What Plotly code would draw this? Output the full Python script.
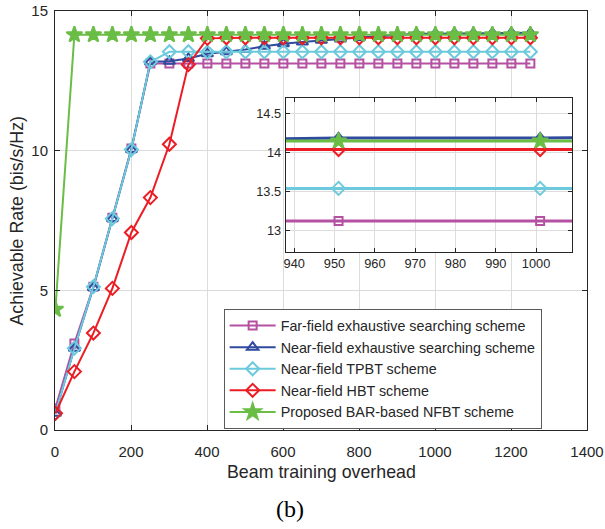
import plotly.graph_objects as go

overhead = [1, 51, 101, 151, 201, 251, 301, 351, 401, 451, 501, 551, 601,
            651, 701, 751, 801, 851, 901, 951, 1001, 1051, 1101, 1151, 1201, 1251]

far_field = [0.78, 3.10, 5.13, 7.60, 10.08, 13.12, 13.12, 13.12, 13.12, 13.12,
             13.12, 13.12, 13.12, 13.12, 13.12, 13.12, 13.12, 13.12, 13.12, 13.12,
             13.12, 13.12, 13.12, 13.12, 13.12, 13.12]
near_exh = [0.60, 2.93, 5.10, 7.57, 10.04, 13.18, 13.20, 13.30, 13.47, 13.54,
            13.62, 13.74, 13.83, 13.89, 13.95, 14.00, 14.05, 14.10, 14.15, 14.19,
            14.19, 14.20, 14.20, 14.21, 14.22, 14.22]
tpbt = [0.60, 2.93, 5.13, 7.57, 10.04, 13.18, 13.54, 13.54, 13.53, 13.54,
        13.54, 13.54, 13.54, 13.54, 13.54, 13.54, 13.54, 13.54, 13.54, 13.54,
        13.54, 13.54, 13.54, 13.54, 13.54, 13.54]
hbt = [0.60, 2.09, 3.47, 5.07, 7.07, 8.32, 10.23, 13.08, 14.02, 14.04,
       14.04, 14.04, 14.04, 14.04, 14.04, 14.04, 14.04, 14.04, 14.04, 14.04,
       14.04, 14.04, 14.04, 14.04, 14.04, 14.04]
proposed = [4.32, 14.15, 14.15, 14.15, 14.15, 14.15, 14.15, 14.15, 14.15, 14.15,
            14.15, 14.15, 14.15, 14.15, 14.15, 14.15, 14.15, 14.15, 14.15, 14.15,
            14.15, 14.15, 14.15, 14.15, 14.15, 14.15]

names = ["Far-field exhaustive searching scheme",
         "Near-field exhaustive searching scheme",
         "Near-field TPBT scheme",
         "Near-field HBT scheme",
         "Proposed BAR-based NFBT scheme"]
series = [far_field, near_exh, tpbt, hbt, proposed]
colors = ["#B451A2", "#2F4A9E", "#6CCADC", "#EC1C24", "#6ABD45"]
symbols = ["square-open", "triangle-up-open", "diamond-open", "diamond-open", "star"]
msizes = [8, 10, 10, 10, 12]

x_ticks = [0, 200, 400, 600, 800, 1000, 1200, 1400]
y_ticks = [0, 5, 10, 15]
inset_x_ticks = [940, 950, 960, 970, 980, 990, 1000]
inset_y_ticks = [13, 13.5, 14, 14.5]

TXT = "#262626"
FONT = "Liberation Sans, Arial, sans-serif"

fig = go.Figure()
for nm, ys, c, s, ms in zip(names, series, colors, symbols, msizes):
    fig.add_trace(go.Scatter(
        x=overhead, y=ys, name=nm, mode="lines+markers",
        line=dict(color=c, width=2),
        marker=dict(symbol=s, size=ms, color=c, line=dict(color=c, width=2)),
        xaxis="x", yaxis="y"))
for nm, ys, c, s, ms in zip(names, series, colors, symbols, msizes):
    fig.add_trace(go.Scatter(
        x=overhead, y=ys, name=nm, mode="lines+markers", showlegend=False,
        line=dict(color=c, width=3),
        marker=dict(symbol=s, size=ms, color=c, line=dict(color=c, width=2)),
        xaxis="x2", yaxis="y2"))

axis_common = dict(showgrid=True, gridcolor="#dcdcdc", gridwidth=1,
                   showline=True, linecolor=TXT, linewidth=1, mirror="ticks",
                   ticks="inside", tickcolor=TXT, zeroline=False, automargin=False)
main_font = dict(family=FONT, size=15, color=TXT)
inset_font = dict(family=FONT, size=12.8, color=TXT)

fig.update_layout(
    width=605, height=529,
    margin=dict(l=55, r=18, t=11, b=99),
    paper_bgcolor="white", plot_bgcolor="white",
    xaxis=dict(range=[0, 1400], tickvals=x_ticks, ticklen=5, tickfont=main_font,
               domain=[0, 1], anchor="y", ticklabelstandoff=8, **axis_common),
    yaxis=dict(range=[0, 15], tickvals=y_ticks, ticklen=5, tickfont=main_font,
               domain=[0, 1], anchor="x", ticklabelstandoff=3, **axis_common),
    xaxis2=dict(range=[937.9, 1008.9], tickvals=inset_x_ticks, ticklen=4,
                tickfont=inset_font,
                domain=[0.4337, 0.9718], anchor="y2", ticklabelstandoff=0,
                **axis_common),
    yaxis2=dict(range=[12.72, 14.70], tickvals=inset_y_ticks, ticklen=4,
                tickfont=inset_font,
                domain=[0.4245, 0.7918], anchor="x2", ticklabelstandoff=1,
                **axis_common),
    legend=dict(x=0.317, y=0.003, xanchor="left", yanchor="bottom",
                bgcolor="white", bordercolor="#5a5a5a", borderwidth=1,
                font=dict(family=FONT, size=14.3, color=TXT),
                tracegroupgap=0, itemwidth=46),
    showlegend=True,
    annotations=[
        dict(text="Beam training overhead", xref="paper", yref="paper",
             x=0.5, y=-0.1002, xanchor="center", yanchor="middle", showarrow=False,
             font=dict(family=FONT, size=17.8, color=TXT)),
        dict(text="Achievable Rate (bis/s/Hz)", xref="paper", yref="paper",
             x=-0.0733, y=0.5, xanchor="center", yanchor="middle", showarrow=False,
             textangle=-90, font=dict(family=FONT, size=17.8, color=TXT)),
        dict(text="(b)", xref="paper", yref="paper",
             x=0.4417, y=-0.1885, xanchor="center", yanchor="middle", showarrow=False,
             font=dict(family="Liberation Serif, Times New Roman, serif", size=24, color="black")),
    ],
)

fig.write_html("out.html")
